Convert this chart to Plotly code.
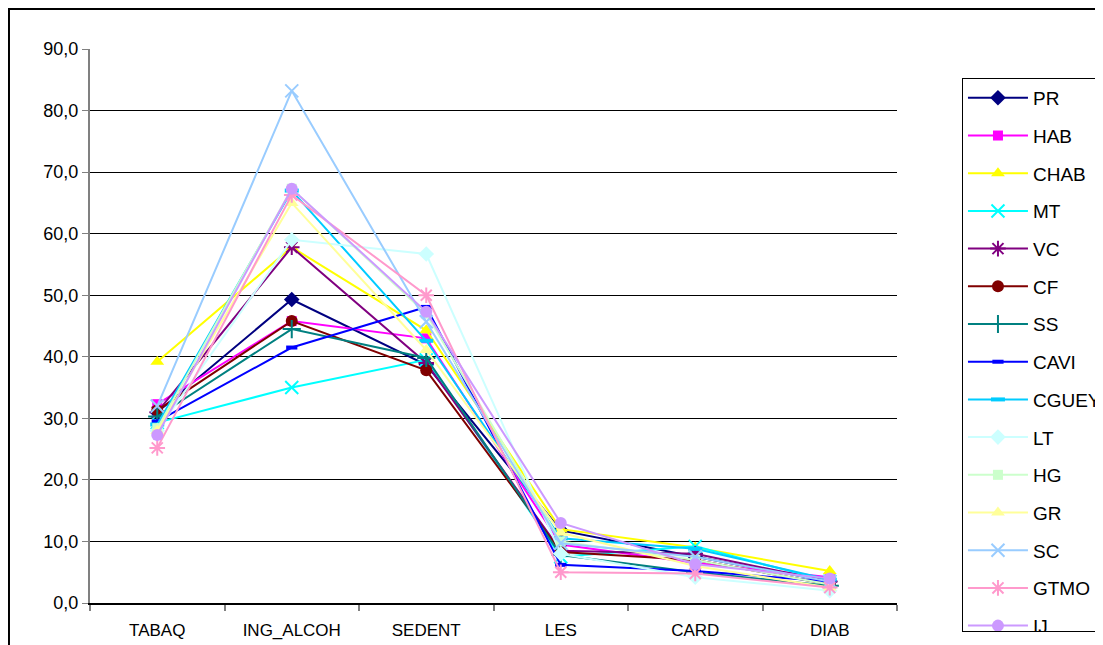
import plotly.graph_objects as go

categories = ["TABAQ", "ING_ALCOH", "SEDENT", "LES", "CARD", "DIAB"]

PR    = [31.0, 49.3, 38.7, 11.8, 7.5, 3.5]
HAB   = [32.3, 45.8, 43.0, 9.5, 6.5, 4.2]
CHAB  = [39.2, 57.8, 44.3, 12.0, 9.0, 5.2]
MT    = [29.3, 35.0, 39.5, 7.5, 9.2, 3.5]
VC    = [31.0, 57.8, 39.0, 8.5, 8.0, 3.5]
CF    = [31.3, 45.8, 37.8, 8.3, 7.0, 3.0]
SS    = [30.3, 44.5, 39.8, 7.8, 5.0, 2.8]
CAVI  = [29.5, 41.5, 48.1, 6.2, 5.2, 3.5]
CGUEY = [29.0, 67.0, 42.6, 10.5, 8.8, 3.8]
LT    = [28.0, 59.0, 56.7, 8.0, 4.2, 2.0]
HG    = [28.4, 67.3, 47.0, 10.0, 7.0, 3.0]
GR    = [28.0, 65.0, 41.1, 11.4, 6.0, 2.5]
SC    = [32.0, 83.2, 45.7, 9.7, 7.5, 3.5]
GTMO  = [25.2, 66.3, 50.0, 5.0, 4.8, 2.5]
IJ    = [27.3, 67.3, 47.3, 13.0, 6.3, 4.0]

series_names = ["PR", "HAB", "CHAB", "MT", "VC", "CF", "SS", "CAVI", "CGUEY",
                "LT", "HG", "GR", "SC", "GTMO", "IJ"]
series_values = [PR, HAB, CHAB, MT, VC, CF, SS, CAVI, CGUEY, LT, HG, GR, SC, GTMO, IJ]
colors = ["#000080", "#FF00FF", "#FFFF00", "#00FFFF", "#800080", "#800000",
          "#008080", "#0000FF", "#00CCFF", "#CCFFFF", "#CCFFCC", "#FFFF99",
          "#99CCFF", "#FF99CC", "#CC99FF"]
symbols = ["diamond", "square", "triangle-up", "x-thin", "asterisk", "circle",
           "cross-thin", "line-ew", "line-ew", "diamond", "square", "triangle-up",
           "x-thin", "asterisk", "circle"]
sizes = [12, 10, 12, 13, 13, 12, 13, 8, 10, 12, 10, 12, 13, 13, 12]

fig = go.Figure()
for name, vals, col, sym, sz in zip(series_names, series_values, colors, symbols, sizes):
    open_sym = sym in ("x-thin", "asterisk", "cross-thin", "line-ew")
    lw = 2 if open_sym else 0
    if sym == "line-ew":
        lw = 4
    fig.add_trace(go.Scatter(
        x=categories, y=vals, name=name, legendgroup=name,
        mode="lines+markers",
        line=dict(color=col, width=2),
        marker=dict(symbol=sym, size=sz, color=col,
                    line=dict(color=col, width=lw)),
    ))

fig.update_layout(
    width=1140, height=645,
    margin=dict(l=82, r=251, t=41, b=50),
    paper_bgcolor="white", plot_bgcolor="white",
    separators=",.",
    font=dict(family="Liberation Sans, Arial, sans-serif", size=17, color="black"),
    showlegend=True,
    legend=dict(
        x=1.0805, y=0.9477, xanchor="left", yanchor="top",
        bordercolor="black", borderwidth=1, bgcolor="white",
        font=dict(size=19, color="black"),
        tracegroupgap=10, itemwidth=60,
    ),
    xaxis=dict(
        type="category", range=[-0.5, 5.5],
        showgrid=False, showline=True, linecolor="black", linewidth=1.5,
        ticks="outside", tickson="boundaries", ticklen=6, tickcolor="#808080",
        tickwidth=2, tickfont=dict(size=17), zeroline=False,
        ticklabelstandoff=11,
    ),
    yaxis=dict(
        range=[0, 90], dtick=10, tickformat=".1f",
        showgrid=True, gridcolor="black", gridwidth=1,
        showline=True, linecolor="#808080", linewidth=2,
        ticks="outside", ticklen=6, tickcolor="#808080",
        tickfont=dict(size=18), zeroline=False,
    ),
    shapes=[dict(type="rect", xref="paper", yref="paper",
                 x0=-0.1004, x1=1.5, y0=-0.3, y1=1.0722,
                 line=dict(color="black", width=2), layer="below")],
)

fig.write_html("out.html")
